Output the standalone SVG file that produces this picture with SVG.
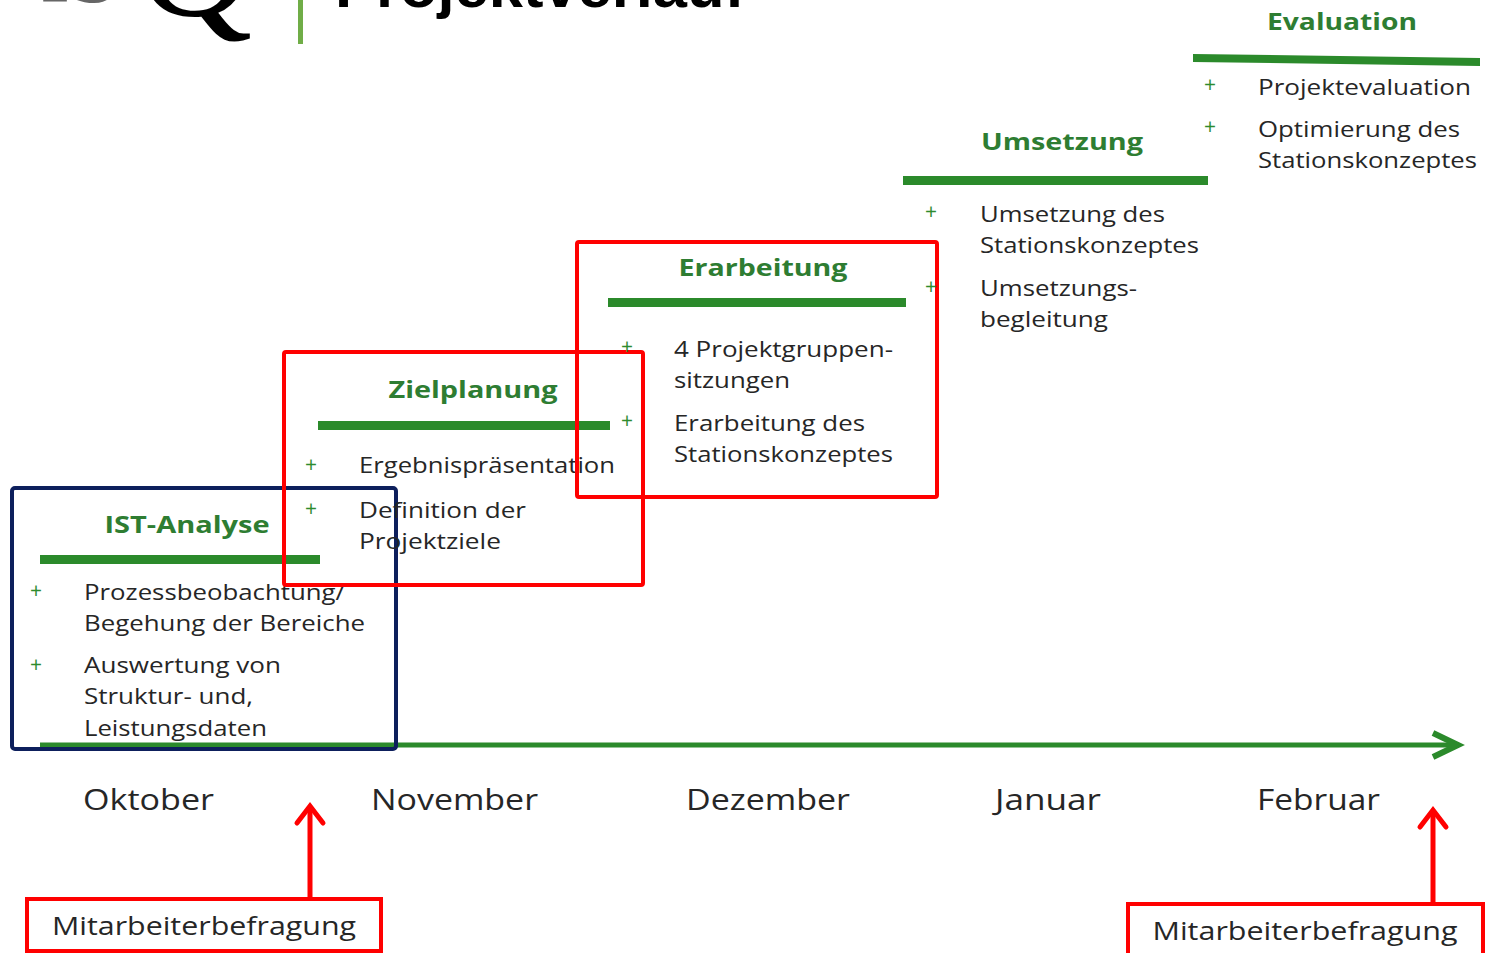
<svg xmlns="http://www.w3.org/2000/svg" width="1490" height="953" viewBox="0 0 1490 953">
<defs>
<style>
.t{font-family:"Open Sans","Liberation Sans",sans-serif;font-size:22px;fill:#262626}
.h{font-family:"Open Sans","Liberation Sans",sans-serif;font-size:24px;font-weight:bold;fill:#2e7d32;text-anchor:middle}
.p{font-family:"Open Sans","Liberation Sans",sans-serif;font-size:21px;fill:#2e8b2e;text-anchor:middle}
.m{font-family:"Open Sans","Liberation Sans",sans-serif;font-size:30px;fill:#262626}
.b{font-family:"Open Sans","Liberation Sans",sans-serif;font-size:25px;fill:#262626;text-anchor:middle}
.bar{fill:#2b8a2b}
.red{fill:none;stroke:#ff0000;stroke-width:4}
</style>
</defs>
<rect width="1490" height="953" fill="#ffffff"/>

<g id="header">
<text x="40" y="2" font-family="Liberation Serif, serif" font-size="90" fill="#666666">IS</text>
<text x="137" y="15" font-family="Liberation Serif, serif" font-size="160" fill="#000000">Q</text>
<rect x="298" y="0" width="5" height="44" fill="#70ad47"/>
<text x="335" y="7" font-family="Liberation Sans, sans-serif" font-size="60" font-weight="bold" fill="#000000" textLength="410" lengthAdjust="spacingAndGlyphs">Projektverlauf</text>
</g>

<g id="connectors">
<line x1="40" y1="745" x2="1456" y2="745" stroke="#2b8a2b" stroke-width="5"/>
<polyline points="1433,733 1458,745 1433,757" fill="none" stroke="#2b8a2b" stroke-width="6" stroke-linejoin="miter"/>
<line x1="310" y1="898" x2="310" y2="808" stroke="#ff0000" stroke-width="5"/>
<polyline points="297,823 310,806 323,823" fill="none" stroke="#ff0000" stroke-width="5" stroke-linecap="round"/>
<line x1="1433" y1="903" x2="1433" y2="812" stroke="#ff0000" stroke-width="5"/>
<polyline points="1420,827 1433,810 1446,827" fill="none" stroke="#ff0000" stroke-width="5" stroke-linecap="round"/>
</g>

<g id="ist-analyse">
<text class="h" x="187" y="533" textLength="165" lengthAdjust="spacingAndGlyphs">IST-Analyse</text>
<rect class="bar" x="40" y="555" width="280" height="9"/>
<text class="p" x="36" y="598">+</text>
<text class="t" x="84" y="600" textLength="261" lengthAdjust="spacingAndGlyphs">Prozessbeobachtung/</text>
<text class="t" x="84" y="631" textLength="281" lengthAdjust="spacingAndGlyphs">Begehung der Bereiche</text>
<text class="p" x="36" y="672">+</text>
<text class="t" x="84" y="673" textLength="197" lengthAdjust="spacingAndGlyphs">Auswertung von</text>
<text class="t" x="84" y="704" textLength="169" lengthAdjust="spacingAndGlyphs">Struktur- und,</text>
<text class="t" x="84" y="736" textLength="183" lengthAdjust="spacingAndGlyphs">Leistungsdaten</text>
<rect x="12" y="488" width="384" height="261" rx="3" fill="none" stroke="#0d1f5c" stroke-width="4"/>
</g>

<g id="zielplanung">
<text class="h" x="473" y="398" textLength="169" lengthAdjust="spacingAndGlyphs">Zielplanung</text>
<rect class="bar" x="318" y="421" width="292" height="9"/>
<text class="p" x="311" y="472">+</text>
<text class="t" x="359" y="473" textLength="256" lengthAdjust="spacingAndGlyphs">Ergebnispräsentation</text>
<text class="p" x="311" y="516">+</text>
<text class="t" x="359" y="518" textLength="167" lengthAdjust="spacingAndGlyphs">Definition der</text>
<text class="t" x="359" y="549" textLength="142" lengthAdjust="spacingAndGlyphs">Projektziele</text>
<rect class="red" x="284" y="352" width="359" height="233" rx="2"/>
</g>

<g id="erarbeitung">
<text class="h" x="763" y="276" textLength="169" lengthAdjust="spacingAndGlyphs">Erarbeitung</text>
<rect class="bar" x="608" y="298" width="298" height="9"/>
<text class="p" x="627" y="354">+</text>
<text class="t" x="674" y="357" textLength="219" lengthAdjust="spacingAndGlyphs">4 Projektgruppen-</text>
<text class="t" x="674" y="388" textLength="116" lengthAdjust="spacingAndGlyphs">sitzungen</text>
<text class="p" x="627" y="428">+</text>
<text class="t" x="674" y="431" textLength="191" lengthAdjust="spacingAndGlyphs">Erarbeitung des</text>
<text class="t" x="674" y="462" textLength="219" lengthAdjust="spacingAndGlyphs">Stationskonzeptes</text>
<rect class="red" x="577" y="242" width="360" height="255" rx="2"/>
</g>

<g id="umsetzung">
<text class="h" x="1062" y="150" textLength="162" lengthAdjust="spacingAndGlyphs">Umsetzung</text>
<rect class="bar" x="903" y="176" width="305" height="9"/>
<text class="p" x="931" y="219">+</text>
<text class="t" x="980" y="222" textLength="185" lengthAdjust="spacingAndGlyphs">Umsetzung des</text>
<text class="t" x="980" y="253" textLength="219" lengthAdjust="spacingAndGlyphs">Stationskonzeptes</text>
<text class="p" x="931" y="294">+</text>
<text class="t" x="980" y="296" textLength="157" lengthAdjust="spacingAndGlyphs">Umsetzungs-</text>
<text class="t" x="980" y="327" textLength="128" lengthAdjust="spacingAndGlyphs">begleitung</text>
</g>

<g id="evaluation">
<text class="h" x="1342" y="30" textLength="150" lengthAdjust="spacingAndGlyphs">Evaluation</text>
<polygon class="bar" points="1193,54 1480,58 1480,66 1193,62"/>
<text class="p" x="1210" y="92">+</text>
<text class="t" x="1258" y="95" textLength="213" lengthAdjust="spacingAndGlyphs">Projektevaluation</text>
<text class="p" x="1210" y="134">+</text>
<text class="t" x="1258" y="137" textLength="202" lengthAdjust="spacingAndGlyphs">Optimierung des</text>
<text class="t" x="1258" y="168" textLength="219" lengthAdjust="spacingAndGlyphs">Stationskonzeptes</text>
</g>

<g id="months">
<text class="m" x="83" y="810" textLength="131" lengthAdjust="spacingAndGlyphs">Oktober</text>
<text class="m" x="371" y="810" textLength="167" lengthAdjust="spacingAndGlyphs">November</text>
<text class="m" x="686" y="810" textLength="164" lengthAdjust="spacingAndGlyphs">Dezember</text>
<text class="m" x="995" y="810" textLength="106" lengthAdjust="spacingAndGlyphs">Januar</text>
<text class="m" x="1257" y="810" textLength="123" lengthAdjust="spacingAndGlyphs">Februar</text>
</g>

<g id="befragung-1">
<rect class="red" x="27" y="899" width="354" height="52"/>
<text class="b" x="204" y="935" textLength="304" lengthAdjust="spacingAndGlyphs">Mitarbeiterbefragung</text>
</g>

<g id="befragung-2">
<rect class="red" x="1128" y="904" width="355" height="60"/>
<text class="b" x="1305" y="940" textLength="305" lengthAdjust="spacingAndGlyphs">Mitarbeiterbefragung</text>
</g>
</svg>
